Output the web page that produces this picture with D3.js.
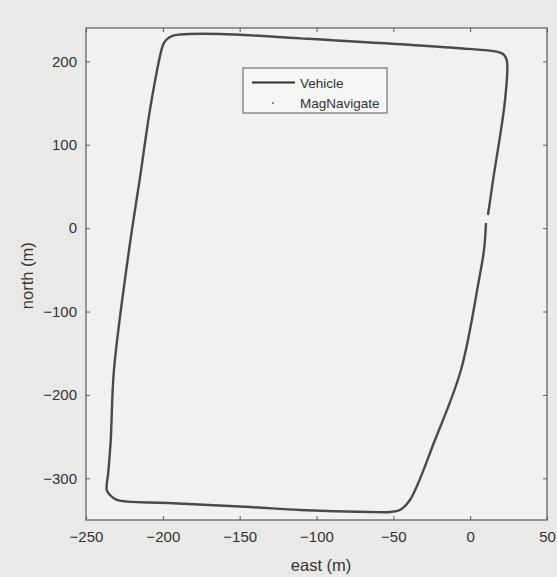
<!DOCTYPE html>
<html>
<head>
<meta charset="utf-8">
<script src="https://cdn.jsdelivr.net/npm/d3@7"></script>
<style>
    html, body { margin: 0; padding: 0; background: #e9e9e7; }
    svg { display: block; font-family: "Liberation Sans", Arial, sans-serif; }
</style>
</head>
<body>
<div id="chart"></div>
<script>
"use strict"

//-----------------------------DATA-----------------------------//
// vehicle track (clockwise, starting at the gap on the east edge)
const eastM = [10.3, 9.0, 5.7, -6.0, -22.9, -39.2, -45.7, -52.2, -65.2, -110.7, -143.3, -196.6,
    -230.0, -234.4, -236.5, -235.5, -233.9, -231.8, -222.0, -215.1, -207.3, -199.9, -197.9,
    -193.4, -188.8, -162.8, -110.7, -6.6, 17.3, 21.4, 23.8, 22.7, 14.9, 11.6];
const northM = [6.2, -26.2, -62.2, -170.1, -254.1, -326.0, -338.0, -340.4, -340.4, -338.0, -334.4, -329.6,
    -326.0, -320.0, -314.0, -293.0, -254.1, -170.1, -26.2, 57.7, 153.7, 219.6, 225.6,
    230.8, 232.2, 232.8, 227.6, 215.7, 211.6, 208.8, 201.6, 153.7, 57.7, 15.7];
const xTicks = [-250, -200, -150, -100, -50, 0, 50];
const yTicks = [-300, -200, -100, 0, 100, 200];
const legendLabels = ["Vehicle", "MagNavigate"];

//----------------------------LAYOUT----------------------------//
const W = 557, H = 577;
const margin = {left: 86, top: 28, right: 10, bottom: 57};
const width = W - margin.left - margin.right;
const height = H - margin.top - margin.bottom;
const ink = "#5a5a5a";
const textInk = "#333";

const svg = d3.select("#chart").append("svg")
    .attr("width", W)
    .attr("height", H);

svg.append("rect")
    .attr("width", W).attr("height", H)
    .attr("fill", "#e9e9e7");

const g = svg.append("g")
    .attr("transform", `translate(${margin.left},${margin.top})`);

g.append("rect")
    .attr("width", width).attr("height", height)
    .attr("fill", "#f1f1ef");

//----------------------------SCALES----------------------------//
const xScale = d3.scaleLinear().domain([-250, 50]).range([0, width]);
const yScale = d3.scaleLinear().domain([-350, 240]).range([height, 0]);

//-----------------------------AXES-----------------------------//
const styleAxis = (sel, showLabels) => {
    sel.select(".domain").remove();
    sel.selectAll(".tick line").attr("stroke", ink).attr("stroke-width", 1);
    sel.selectAll(".tick text")
        .attr("fill", textInk)
        .style("font-size", "15px")
        .style("display", showLabels ? null : "none");
};

g.append("g")
    .attr("transform", `translate(0,${height})`)
    .call(d3.axisBottom(xScale).tickValues(xTicks).tickSizeInner(-4).tickSizeOuter(0).tickPadding(11))
    .call(sel => styleAxis(sel, true));

g.append("g")
    .call(d3.axisTop(xScale).tickValues(xTicks).tickSizeInner(-4).tickSizeOuter(0))
    .call(sel => styleAxis(sel, false));

g.append("g")
    .call(d3.axisLeft(yScale).tickValues(yTicks).tickSizeInner(-4).tickSizeOuter(0).tickPadding(9))
    .call(sel => styleAxis(sel, true));

g.append("g")
    .attr("transform", `translate(${width},0)`)
    .call(d3.axisRight(yScale).tickValues(yTicks).tickSizeInner(-4).tickSizeOuter(0))
    .call(sel => styleAxis(sel, false));

// box
g.append("rect")
    .attr("width", width).attr("height", height)
    .attr("fill", "none")
    .attr("stroke", ink)
    .attr("stroke-width", 1.2);

// axis titles
svg.append("text")
    .attr("x", margin.left + xScale(-97))
    .attr("y", 571)
    .attr("text-anchor", "middle")
    .attr("fill", textInk)
    .style("font-size", "16.5px")
    .text("east (m)");

svg.append("text")
    .attr("transform", `translate(33,${margin.top + yScale(-57)}) rotate(-90)`)
    .attr("text-anchor", "middle")
    .attr("fill", textInk)
    .style("font-size", "16.5px")
    .text("north (m)");

//-----------------------------TRACK----------------------------//
const track = eastM.map((e, i) => [e, northM[i]]);
const line = d3.line()
    .x(d => xScale(d[0]))
    .y(d => yScale(d[1]))
    .curve(d3.curveCatmullRom.alpha(0.5));

g.append("path")
    .datum(track)
    .attr("d", line)
    .attr("fill", "none")
    .attr("stroke", "#4a4a4a")
    .attr("stroke-width", 2.4)
    .attr("stroke-linejoin", "round");

//----------------------------LEGEND----------------------------//
const legend = svg.append("g").attr("transform", "translate(243,68)");
legend.append("rect")
    .attr("width", 144).attr("height", 45)
    .attr("fill", "#f6f6f4")
    .attr("stroke", ink)
    .attr("stroke-width", 1);

legend.append("line")
    .attr("x1", 9).attr("x2", 52)
    .attr("y1", 14.5).attr("y2", 14.5)
    .attr("stroke", "#2e2e2e")
    .attr("stroke-width", 2);

legend.append("circle")
    .attr("cx", 30).attr("cy", 35)
    .attr("r", 0.9)
    .attr("fill", "#555");

legend.selectAll("text.lbl")
    .data(legendLabels)
    .join("text")
    .attr("class", "lbl")
    .attr("x", 57)
    .attr("y", (d, i) => 19.5 + i * 20)
    .attr("fill", textInk)
    .style("font-size", "13.5px")
    .text(d => d);
</script>
</body>
</html>
